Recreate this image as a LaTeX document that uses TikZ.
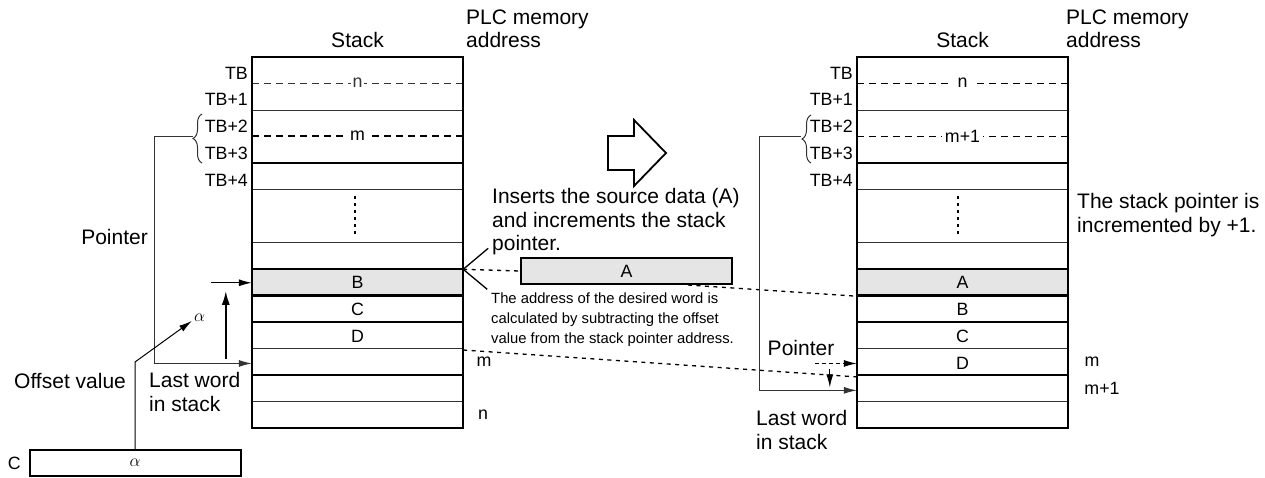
\documentclass[tikz,border=0pt]{standalone}
\usepackage{fontspec}
\setmainfont{Liberation Sans}
\usetikzlibrary{arrows.meta,positioning,calc,decorations.pathreplacing}

\newcommand\bigtxt{\fontsize{21}{23.5}\selectfont}
\newcommand\midtxt{\fontsize{17.8}{20}\selectfont}
\newcommand\smalltxt{\fontsize{14.8}{20}\selectfont}

\begin{document}
\begin{tikzpicture}[x=1pt, y=-1pt,
  font=\midtxt,
  txt/.style={inner sep=0pt},
  note/.style={inner sep=0pt, font=\bigtxt, align=left},
  cell/.style={minimum width=211pt, minimum height=26.5pt, inner sep=0pt},
  fillcell/.style={cell, fill=black!10},
  stackbox/.style={draw, line width=2.2pt, minimum width=211pt, minimum height=371pt, inner sep=0pt},
  wordbox/.style={draw, line width=2pt, minimum width=211pt, minimum height=26pt, inner sep=0pt},
  rowthin/.style={line width=1pt, black!80},
  rowthick/.style={line width=2.2pt},
  midline/.style={dash pattern=on 7pt off 5pt, line width=1pt},
  lead/.style={line width=1pt, black!80},
  ptr/.style={-{Latex[length=13pt, width=7pt]}, line width=1pt},
  guide/.style={dash pattern=on 4pt off 4.5pt, line width=1.3pt},
  curly/.style={decorate, decoration={brace, amplitude=9pt}, lead}
]
\useasboundingbox (0,0) rectangle (1265,477);

% left stack: rows
\node[fillcell] (lB) at (357.5,282.75) {B};
\node[cell, below=0pt of lB] (lC) {C};
\node[cell, below=0pt of lC] (lD) {D};
\node[cell, below=0pt of lD] (lLast) {};
% right stack: rows
\node[fillcell] (rA) at (962.5,282.75) {A};
\node[cell, below=0pt of rA] (rB) {B};
\node[cell, below=0pt of rB] (rC) {C};
\node[cell, below=0pt of rC] (rD) {D};
\node[cell, below=0pt of rD] (rLast) {};

\foreach \sx in {252,857}
  \foreach \k/\w in {2/rowthin,4/rowthick,5/rowthin,7/rowthin,8/rowthick,9/rowthick,
                     10/rowthick,11/rowthin,12/rowthick,13/rowthin}
    \draw[\w] (\sx,{57+26.5*\k}) -- ++(211,0);

\draw[midline, black!80] (252,83) -- node[fill=white, inner sep=2pt] (ldn) {n} (463,83);
\draw[midline, line width=1.4pt] (252,136) -- node[fill=white, inner sep=2pt] (ldm) {m} (463,136);
\draw[midline] (857,83) -- node[fill=white, inner sep=6pt] (rdn) {n} (1068,83);
\draw[midline] (857,136) -- node[fill=white, inner sep=3pt] (rdm) {m+1} (1068,136);
\draw[line width=1.6pt, dash pattern=on 3pt off 4pt] (355,196) -- (355,234);
\draw[line width=1.6pt, dash pattern=on 3pt off 4pt] (958,196) -- (958,234);

\node[stackbox] (ls) at (357.5,242.5) {};
\node[stackbox] (rs) at (962.5,242.5) {};

% headings and addresses
\node[note] (lstack) at (357.5,40) {Stack};
\node[note, anchor=west] (laddr) at (466,29) {PLC memory\\address};
\node[note] (rstack) at (962.5,40) {Stack};
\node[note, anchor=west] (raddr) at (1066,29) {PLC memory\\address};
\foreach \t [count=\i from 0] in {TB,TB+1,TB+2,TB+3,TB+4} {
  \node[txt, anchor=east] (ltb\i) at (248,{73+26.75*\i}) {\t};
  \node[txt, anchor=east] (rtb\i) at (853,{73+26.75*\i}) {\t};
}
\node[txt] (lm) at (484,362) {m};
\node[txt] (ln) at (483,415) {n};
\node[txt] (rm) at (1092,362) {m};
\node[txt] (rm1) at (1102,388) {m+1};

% left pointer and offset
\draw[curly] (202,163) -- (202,114);
\coordinate (lbr) at (193,136);
\draw[lead, ptr] (lbr) -- ++(-39,0) |- (lLast.west);
\node[note, anchor=east] (lptr) at (148,237) {Pointer};
\draw[ptr] ($(lB.west)+(-41,0)$) -- (lB.west);
\draw[-{Latex[length=14pt, width=8pt]}, line width=2pt] ($(lLast.west)+(-26,-4)$) -- ($(lB.west)+(-26,8)$);
\node[wordbox] (cbox) at (135,463) {$\alpha$};
\node[txt, anchor=east] (clab) at (21,463) {C};
\node[txt] (aoff) at (199.5,318) {$\alpha$};
\draw[ptr] (cbox.north) -- ++(0,-87) -- ($(aoff.south west)+(-2,-1)$);
\node[note, anchor=west] (offs) at (14,381) {Offset value};
\node[note, anchor=west] (llast) at (149,392) {Last word\\in stack};

% transition
\draw[line width=1.8pt, line join=miter] (608,136) -- (634,136) -- (634,120) -- (666,153)
  -- (634,186) -- (634,170) -- (608,170) -- cycle;
\node[note, anchor=west] (ins) at (492,222) {Inserts the source data (A)\\and increments the stack\\pointer.};
\node[wordbox, fill=black!10] (abox) at (626.5,271) {A};
\draw[line width=1.3pt] (lB.north east) ++(25,-21) -- (lB.north east) -- ++(24,20);
\node[txt, anchor=west, font=\smalltxt, align=left] (calc) at (491,320)
  {The address of the desired word is\\calculated by subtracting the offset\\value from the stack pointer address.};
\draw[guide] (lB.north east) -- (abox.west);
\draw[guide] ([xshift=-45pt]abox.south east) -- (rA.south west);
\draw[guide] (lD.south east) -- (rD.south west);

% right pointer
\draw[curly] (811,163) -- (811,115);
\coordinate (rbr) at (801,136);
\draw[lead, ptr] (rbr) -- ++(-42,0) |- (rLast.west);
\node[note] (rptr) at (801,348) {Pointer};
\draw[ptr, dash pattern=on 4pt off 3pt] ($(rD.west)+(-42,0)$) -- (rD.west);
\draw[ptr] ($(rD.west)+(-27,6)$) -- ($(rLast.west)+(-27,-3)$);
\node[note, anchor=west] (rlast) at (756,430) {Last word\\in stack};
\node[note, anchor=west] (incr) at (1077,215) {The stack pointer is\\incremented by +1.};
\end{tikzpicture}
\end{document}
